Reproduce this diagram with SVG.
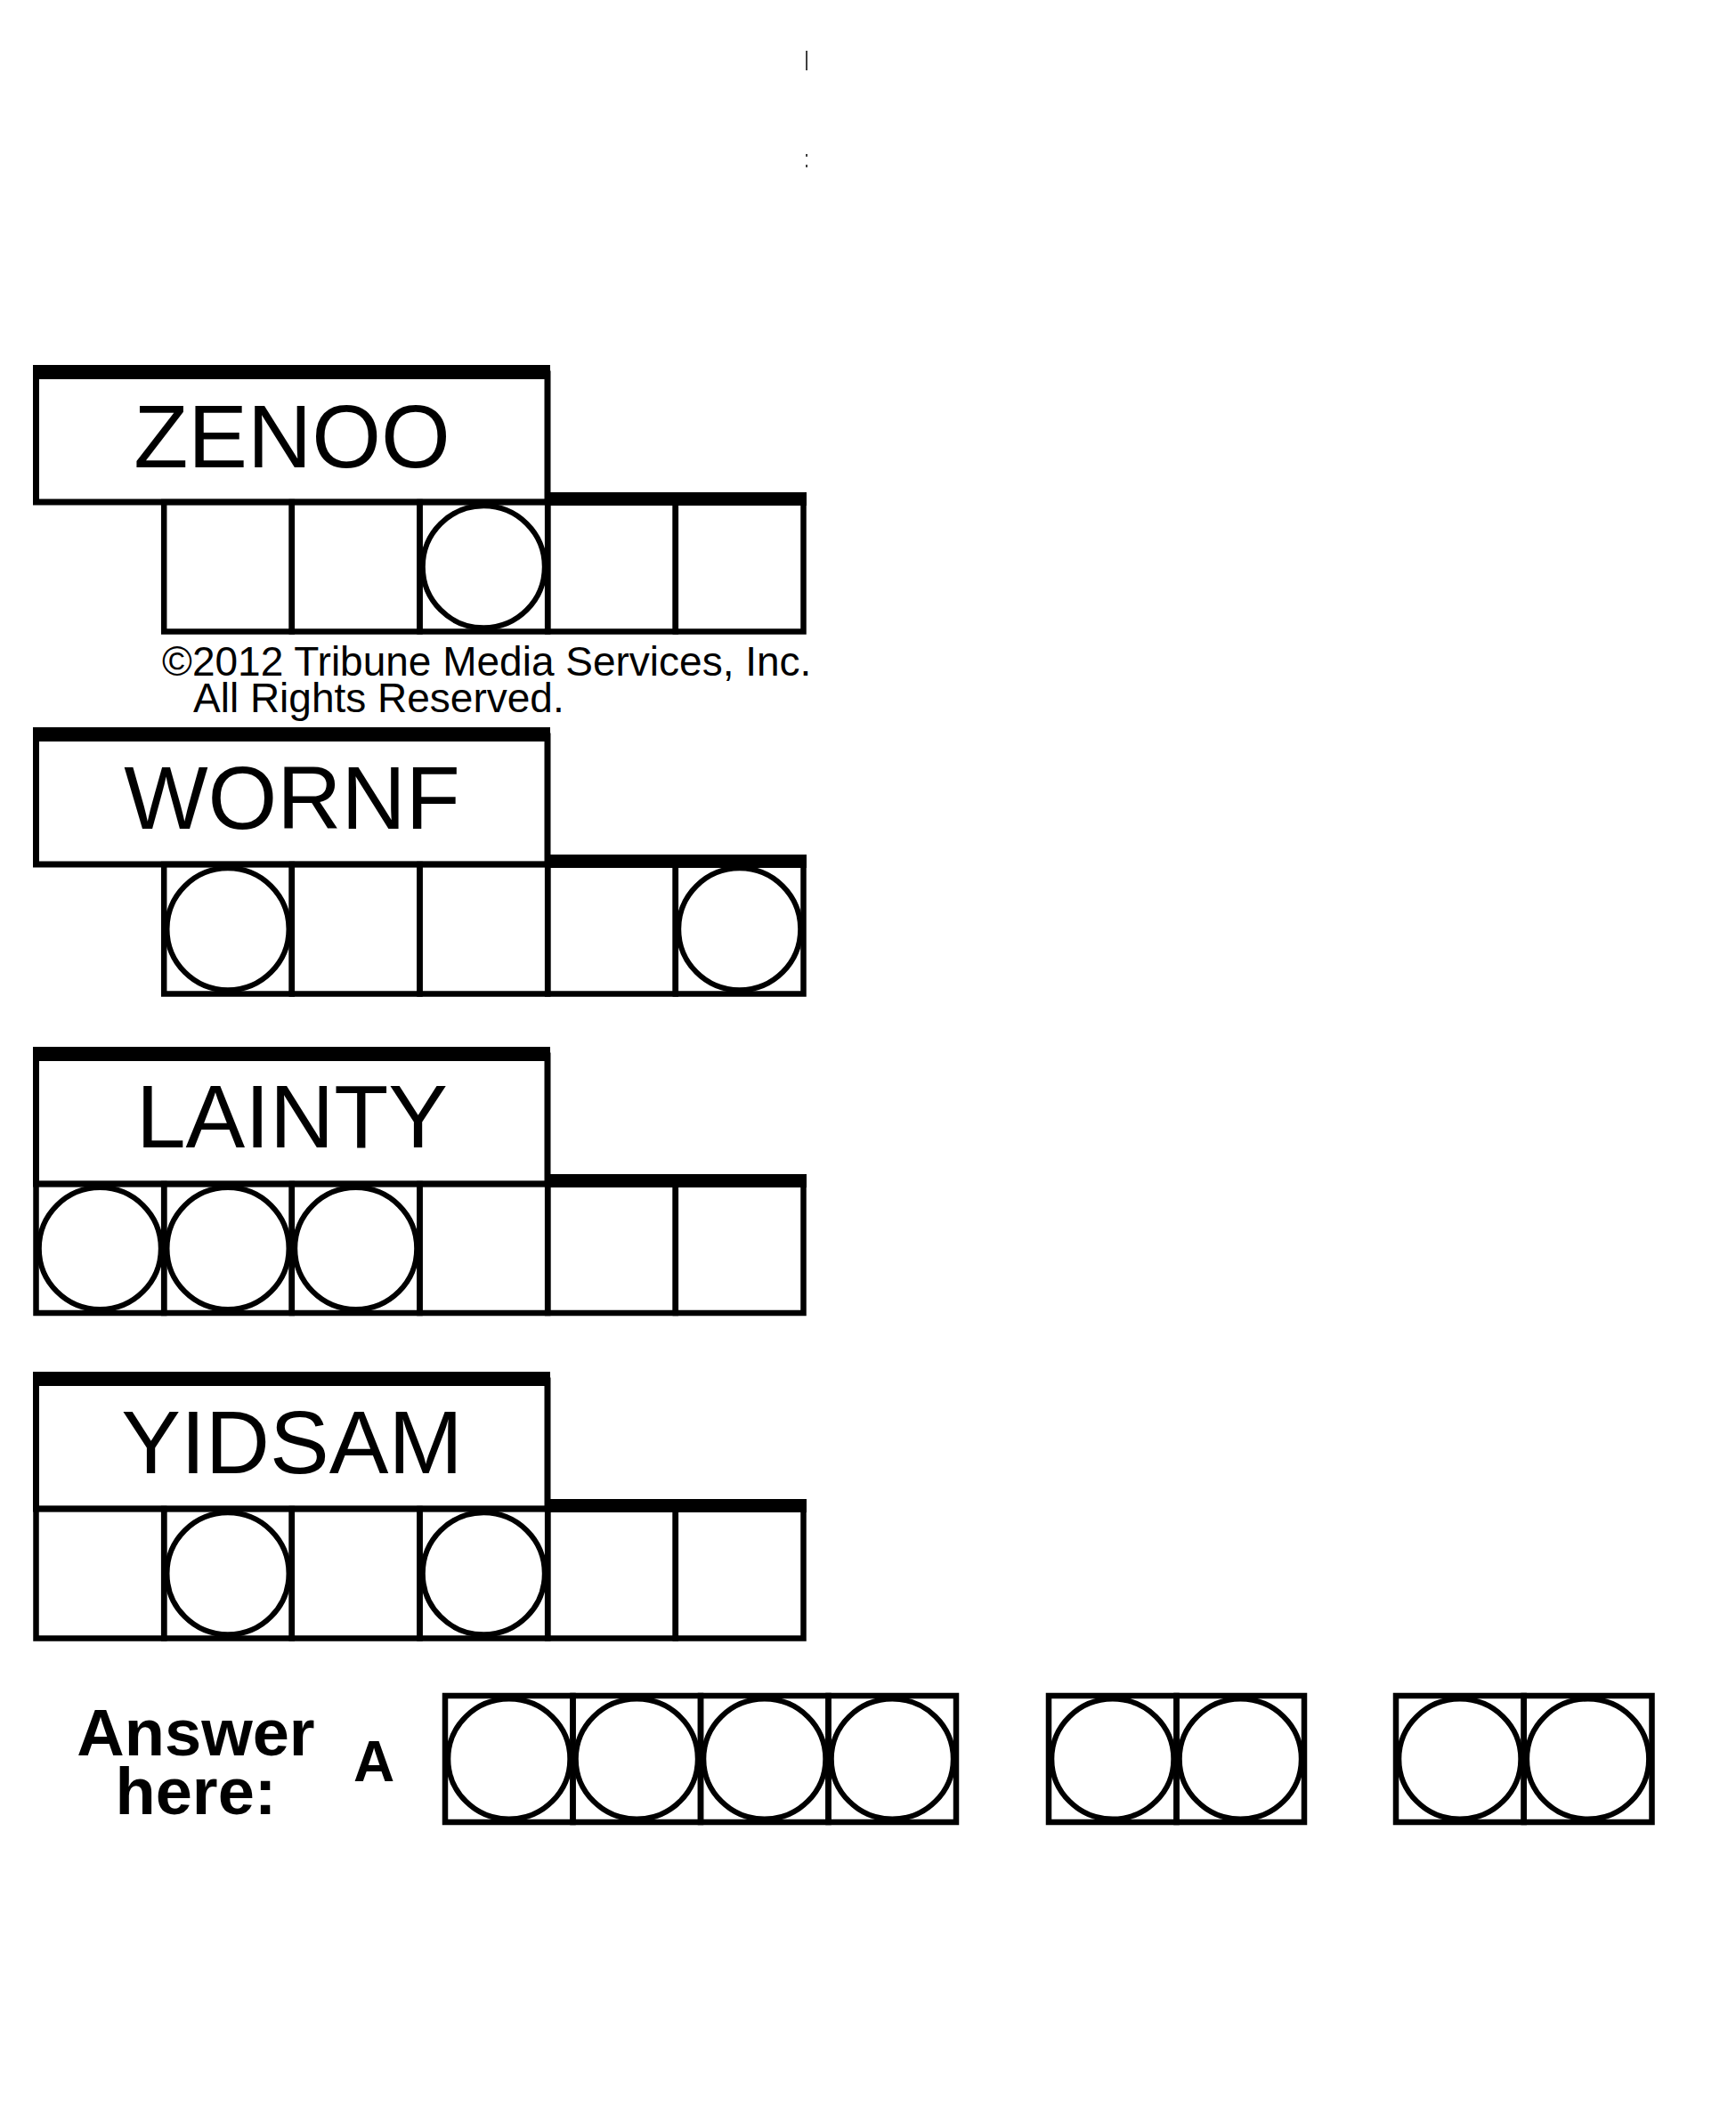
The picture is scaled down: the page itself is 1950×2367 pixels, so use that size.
<svg xmlns="http://www.w3.org/2000/svg" width="1950" height="2367" viewBox="0 0 1950 2367">
<style>
.bg{fill:#fff}
.bar{fill:#000}
.box{fill:none;stroke:#000;stroke-width:7}
.cell{fill:none;stroke:#000;stroke-width:6.5}
.ring{fill:none;stroke:#000;stroke-width:6}
.word{font-family:"Liberation Sans",Arial,sans-serif;font-size:100px;fill:#000;text-anchor:middle}
.copy{font-family:"Liberation Sans",Arial,sans-serif;font-size:46px;fill:#000}
.ans{font-family:"Liberation Sans",Arial,sans-serif;font-weight:bold;fill:#000}
</style>
<rect class="bg" x="0" y="0" width="1950" height="2367"/>
<g id="marks">
<rect class="bar" x="905.3" y="57" width="1.5" height="22"/>
<rect class="bar" x="905.3" y="173" width="1.5" height="3"/>
<rect class="bar" x="905.3" y="185" width="1.5" height="3"/>
</g>
<g id="zenoo">
<rect class="box" x="40.5" y="420" width="574.5" height="144"/>
<rect class="bar" x="37" y="410" width="581" height="16"/>
<rect class="cell" x="184.2" y="564" width="143.6" height="145.5"/>
<rect class="cell" x="327.8" y="564" width="143.7" height="145.5"/>
<rect class="cell" x="471.5" y="564" width="143.7" height="145.5"/>
<rect class="cell" x="615.2" y="564" width="143.6" height="145.5"/>
<rect class="cell" x="758.8" y="564" width="143.7" height="145.5"/>
<rect class="bar" x="612" y="553" width="294" height="15"/>
<circle class="ring" cx="543.3" cy="636.8" r="68.5"/>
<text class="word" x="328" y="525">ZENOO</text>
</g>
<g id="copyright">
<text class="copy" x="182" y="759">©2012 Tribune Media Services, Inc.</text>
<text class="copy" x="217" y="800">All Rights Reserved.</text>
</g>
<g id="wornf">
<rect class="box" x="40.5" y="827" width="574.5" height="144"/>
<rect class="bar" x="37" y="817" width="581" height="16"/>
<rect class="cell" x="184.2" y="971" width="143.6" height="145.5"/>
<rect class="cell" x="327.8" y="971" width="143.7" height="145.5"/>
<rect class="cell" x="471.5" y="971" width="143.7" height="145.5"/>
<rect class="cell" x="615.2" y="971" width="143.6" height="145.5"/>
<rect class="cell" x="758.8" y="971" width="143.7" height="145.5"/>
<rect class="bar" x="612" y="960" width="294" height="15"/>
<circle class="ring" cx="256" cy="1043.8" r="68.5"/>
<circle class="ring" cx="830.7" cy="1043.8" r="68.5"/>
<text class="word" x="328" y="931">WORNF</text>
</g>
<g id="lainty">
<rect class="box" x="40.5" y="1186" width="574.5" height="144"/>
<rect class="bar" x="37" y="1176" width="581" height="16"/>
<rect class="cell" x="40.5" y="1330" width="143.7" height="145"/>
<rect class="cell" x="184.2" y="1330" width="143.6" height="145"/>
<rect class="cell" x="327.8" y="1330" width="143.7" height="145"/>
<rect class="cell" x="471.5" y="1330" width="143.7" height="145"/>
<rect class="cell" x="615.2" y="1330" width="143.6" height="145"/>
<rect class="cell" x="758.8" y="1330" width="143.7" height="145"/>
<rect class="bar" x="612" y="1319" width="294" height="15"/>
<circle class="ring" cx="112.3" cy="1402.5" r="68.5"/>
<circle class="ring" cx="256" cy="1402.5" r="68.5"/>
<circle class="ring" cx="399.7" cy="1402.5" r="68.5"/>
<text class="word" x="328" y="1289">LAINTY</text>
</g>
<g id="yidsam">
<rect class="box" x="40.5" y="1551" width="574.5" height="144"/>
<rect class="bar" x="37" y="1541" width="581" height="16"/>
<rect class="cell" x="40.5" y="1695" width="143.7" height="145.5"/>
<rect class="cell" x="184.2" y="1695" width="143.6" height="145.5"/>
<rect class="cell" x="327.8" y="1695" width="143.7" height="145.5"/>
<rect class="cell" x="471.5" y="1695" width="143.7" height="145.5"/>
<rect class="cell" x="615.2" y="1695" width="143.6" height="145.5"/>
<rect class="cell" x="758.8" y="1695" width="143.7" height="145.5"/>
<rect class="bar" x="612" y="1684" width="294" height="15"/>
<circle class="ring" cx="256" cy="1767.8" r="68.5"/>
<circle class="ring" cx="543.3" cy="1767.8" r="68.5"/>
<text class="word" x="328" y="1655">YIDSAM</text>
</g>
<g id="answer-label">
<text class="ans" x="220" y="1972" font-size="74" text-anchor="middle">Answer</text>
<text class="ans" x="220" y="2038" font-size="74" text-anchor="middle">here:</text>
<text class="ans" x="397" y="2001" font-size="64">A</text>
</g>
<g id="answer-word1">
<rect class="cell" x="500" y="1905" width="143.5" height="142"/>
<rect class="cell" x="643.5" y="1905" width="143.5" height="142"/>
<rect class="cell" x="787" y="1905" width="143.5" height="142"/>
<rect class="cell" x="930.5" y="1905" width="143.5" height="142"/>
<ellipse class="ring" cx="571.8" cy="1976" rx="68.5" ry="67.5"/>
<ellipse class="ring" cx="715.3" cy="1976" rx="68.5" ry="67.5"/>
<ellipse class="ring" cx="858.8" cy="1976" rx="68.5" ry="67.5"/>
<ellipse class="ring" cx="1002.3" cy="1976" rx="68.5" ry="67.5"/>
</g>
<g id="answer-word2">
<rect class="cell" x="1178" y="1905" width="143.5" height="142"/>
<rect class="cell" x="1321.5" y="1905" width="143.5" height="142"/>
<ellipse class="ring" cx="1249.8" cy="1976" rx="68.5" ry="67.5"/>
<ellipse class="ring" cx="1393.3" cy="1976" rx="68.5" ry="67.5"/>
</g>
<g id="answer-word3">
<rect class="cell" x="1568" y="1905" width="143.7" height="142"/>
<rect class="cell" x="1711.7" y="1905" width="143.8" height="142"/>
<ellipse class="ring" cx="1639.8" cy="1976" rx="68.5" ry="67.5"/>
<ellipse class="ring" cx="1783.6" cy="1976" rx="68.5" ry="67.5"/>
</g>
</svg>
